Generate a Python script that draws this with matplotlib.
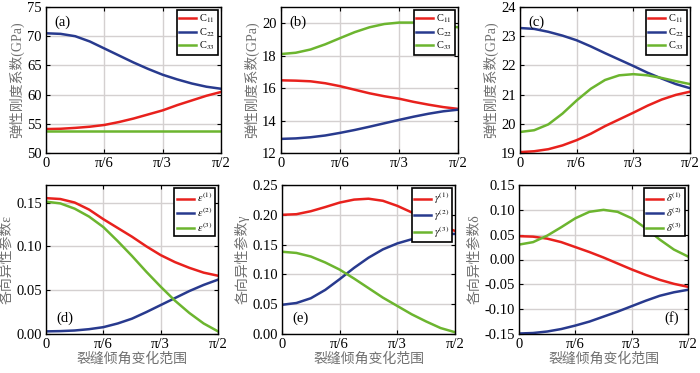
import numpy as np
import matplotlib
matplotlib.use('Agg')
import matplotlib.pyplot as plt

plt.rcParams['font.family'] = ['Liberation Serif', 'Noto Sans CJK SC']
plt.rcParams['mathtext.fontset'] = 'stix'

# angle samples (degrees), 0 .. 90 in 7.5 degree steps
angle_deg = [0, 7.5, 15, 22.5, 30, 37.5, 45, 52.5, 60, 67.5, 75, 82.5, 90]

# (a) stiffness coefficients, GPa
a_c11 = [54.1, 54.15, 54.3, 54.5, 54.8, 55.3, 55.9, 56.6, 57.3, 58.2, 59.0, 59.8, 60.45]
a_c22 = [70.5, 70.4, 70.0, 69.1, 67.9, 66.7, 65.5, 64.4, 63.4, 62.6, 61.9, 61.35, 61.0]
a_c33 = [53.7] * 13

# (b)
b_c11 = [16.48, 16.46, 16.42, 16.3, 16.12, 15.9, 15.68, 15.5, 15.35, 15.15, 14.98, 14.83, 14.72]
b_c22 = [12.87, 12.9, 12.97, 13.08, 13.24, 13.42, 13.62, 13.83, 14.04, 14.24, 14.42, 14.57, 14.67]
b_c33 = [18.1, 18.18, 18.38, 18.7, 19.08, 19.45, 19.75, 19.95, 20.04, 20.04, 19.97, 19.86, 19.75]

# (c)
c_c11 = [19.03, 19.06, 19.13, 19.26, 19.44, 19.66, 19.92, 20.15, 20.38, 20.62, 20.83, 20.99, 21.1]
c_c22 = [23.28, 23.25, 23.15, 23.02, 22.86, 22.65, 22.42, 22.2, 21.98, 21.75, 21.55, 21.36, 21.22]
c_c33 = [19.72, 19.78, 19.98, 20.35, 20.8, 21.2, 21.5, 21.66, 21.7, 21.66, 21.57, 21.46, 21.36]

# (d) epsilon
d_e1 = [0.155, 0.154, 0.150, 0.142, 0.131, 0.121, 0.111, 0.100, 0.090, 0.082, 0.0755, 0.070, 0.0665]
d_e2 = [0.003, 0.0033, 0.004, 0.0055, 0.0078, 0.012, 0.0175, 0.025, 0.033, 0.041, 0.049, 0.056, 0.062]
d_e3 = [0.151, 0.149, 0.143, 0.134, 0.122, 0.106, 0.089, 0.071, 0.054, 0.038, 0.024, 0.012, 0.003]

# (e) gamma
e_g1 = [0.200, 0.201, 0.206, 0.213, 0.2205, 0.2255, 0.227, 0.2235, 0.215, 0.204, 0.192, 0.181, 0.173]
e_g2 = [0.049, 0.052, 0.060, 0.074, 0.092, 0.111, 0.128, 0.142, 0.152, 0.159, 0.164, 0.167, 0.168]
e_g3 = [0.138, 0.136, 0.130, 0.120, 0.108, 0.093, 0.077, 0.061, 0.047, 0.033, 0.021, 0.010, 0.003]

# (f) delta
f_d1 = [0.047, 0.046, 0.042, 0.035, 0.025, 0.015, 0.004, -0.008, -0.020, -0.031, -0.041, -0.049, -0.055]
f_d2 = [-0.149, -0.148, -0.145, -0.140, -0.133, -0.125, -0.115, -0.105, -0.094, -0.083, -0.073, -0.066, -0.061]
f_d3 = [0.030, 0.035, 0.048, 0.065, 0.083, 0.096, 0.100, 0.096, 0.083, 0.063, 0.040, 0.020, 0.006]

xticks = [0, np.pi / 6, np.pi / 3, np.pi / 2]
xticklabels = ['0', 'π/6', 'π/3', 'π/2']

colors = ['#e8211d', '#283a8e', '#6cb52f']

W, H = 700, 373
fig = plt.figure(figsize=(7, 3.73), dpi=100)


def make_axes(l, r, t, b):
    return fig.add_axes([l / W, 1 - b / H, (r - l) / W, (b - t) / H])


panels = [
    # box (px), series, labels, ylim, yticks, yformat, ylabel, tag, tag pos
    ((46, 221, 7, 153), (a_c11, a_c22, a_c33),
     ['C$_{11}$', 'C$_{22}$', 'C$_{33}$'], (50, 75), [50, 55, 60, 65, 70, 75], '%d',
     '弹性刚度系数(GPa)', '(a)', (0.05, 0.87)),
    ((281, 458, 7, 153), (b_c11, b_c22, b_c33),
     ['C$_{11}$', 'C$_{22}$', 'C$_{33}$'], (12, 21), [12, 14, 16, 18, 20], '%d',
     '弹性刚度系数(GPa)', '(b)', (0.05, 0.87)),
    ((520, 690, 7, 153), (c_c11, c_c22, c_c33),
     ['C$_{11}$', 'C$_{22}$', 'C$_{33}$'], (19, 24), [19, 20, 21, 22, 23, 24], '%d',
     '弹性刚度系数(GPa)', '(c)', (0.05, 0.87)),
    ((46, 218, 185, 334), (d_e1, d_e2, d_e3),
     [r'$\varepsilon^{(1)}$', r'$\varepsilon^{(2)}$', r'$\varepsilon^{(3)}$'], (0, 0.17),
     [0, 0.05, 0.10, 0.15], '%.2f', '各向异性参数ε', '(d)', (0.06, 0.08)),
    ((282, 455, 185, 334), (e_g1, e_g2, e_g3),
     [r'$\gamma^{(1)}$', r'$\gamma^{(2)}$', r'$\gamma^{(3)}$'], (0, 0.25),
     [0, 0.05, 0.10, 0.15, 0.20, 0.25], '%.2f', '各向异性参数γ', '(e)', (0.06, 0.08)),
    ((519, 688, 185, 334), (f_d1, f_d2, f_d3),
     [r'$\delta^{(1)}$', r'$\delta^{(2)}$', r'$\delta^{(3)}$'], (-0.15, 0.15),
     [-0.15, -0.10, -0.05, 0, 0.05, 0.10, 0.15], '%.2f', '各向异性参数δ', '(f)', (0.86, 0.08)),
]

x = np.radians(angle_deg)

for i, (box, series, labels, ylim, yticks, yfmt, ylabel, tag, tagpos) in enumerate(panels):
    ax = make_axes(*box)
    for y, c, lab in zip(series, colors, labels):
        ax.plot(x, y, color=c, lw=1.8, label=lab)
    ax.set_xlim(0, np.pi / 2)
    ax.set_ylim(*ylim)
    ax.set_xticks(xticks)
    ax.set_xticklabels(xticklabels)
    ax.set_yticks(yticks)
    ax.set_yticklabels([yfmt % v for v in yticks])
    ax.grid(True, color='#d4d0d0', lw=1.0)
    ax.set_axisbelow(True)
    ax.tick_params(direction='in', top=True, right=True, length=3, labelsize=10.5,
                   width=0.8, pad=3)
    for s in ax.spines.values():
        s.set_linewidth(1.0)
    ax.set_ylabel(ylabel, fontsize=10, color='#707070', labelpad=2)
    ax.text(tagpos[0], tagpos[1], tag, transform=ax.transAxes, fontsize=10.5)
    leg = ax.legend(loc='upper right', fontsize=7.5, handlelength=1.6, handletextpad=0.3,
                    labelspacing=0.1, borderpad=0.25, borderaxespad=0.3,
                    fancybox=False, framealpha=1, edgecolor='black')
    leg.get_frame().set_linewidth(1.2)
    if i >= 3:
        ax.set_xlabel('裂缝倾角变化范围', fontsize=10, color='#707070', labelpad=1)

fig.savefig('out.png', dpi=100)
